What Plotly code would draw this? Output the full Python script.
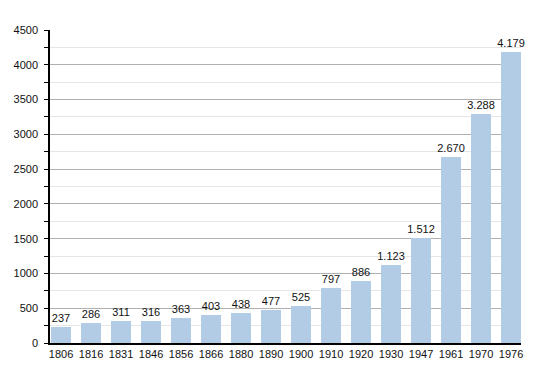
import plotly.graph_objects as go

years = ["1806", "1816", "1831", "1846", "1856", "1866", "1880", "1890",
         "1900", "1910", "1920", "1930", "1947", "1961", "1970", "1976"]
population = [237, 286, 311, 316, 363, 403, 438, 477, 525, 797, 886, 1123,
              1512, 2670, 3288, 4179]
labels = [f"{v:,}".replace(",", ".") for v in population]
positions = list(range(len(years)))

fig = go.Figure(go.Bar(
    x=positions, y=population, text=labels, textposition="outside",
    textfont=dict(color="#111111", size=11, family="Liberation Sans, Arial"),
    marker=dict(color="#b3cce6", line=dict(width=0)),
    width=0.667, cliponaxis=False, hoverinfo="skip",
))

# page body has an 8px default margin; offset the figure so the plot area
# lands where it does in the reference
fig.update_layout(
    width=542, height=365,
    margin=dict(l=42, r=29, t=22, b=30, autoexpand=False),
    paper_bgcolor="white", plot_bgcolor="white",
    font=dict(family="Liberation Sans, Arial", size=11, color="#111111"),
    showlegend=False, bargap=0,
    uniformtext=dict(minsize=11, mode="show"),
    xaxis=dict(
        range=[-0.367, 15.333], tickmode="array", tickvals=positions,
        ticktext=years, showgrid=False, zeroline=False, automargin=False,
        showline=True, linecolor="black", linewidth=1.5, ticks="",
        fixedrange=True,
    ),
    yaxis=dict(
        range=[0, 4500], dtick=500, tick0=0, showgrid=True, automargin=False,
        gridcolor="#b0b0b0", gridwidth=1, zeroline=False,
        showline=True, linecolor="black", linewidth=1.5,
        ticks="outside", ticklen=4, tickcolor="black", ticklabelstandoff=4,
        minor=dict(dtick=250, tick0=0, showgrid=True, gridcolor="#e6e6e6",
                   ticks="outside", ticklen=4, tickcolor="black"),
        layer="below traces",
    ),
)

fig.write_html("out.html")
